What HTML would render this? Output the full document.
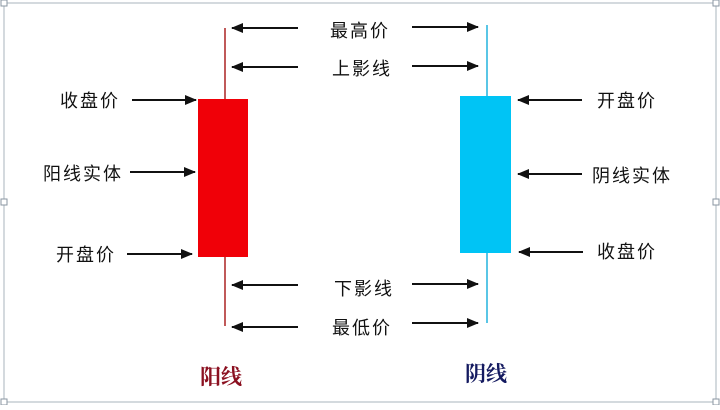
<!DOCTYPE html>
<html><head><meta charset="utf-8"><style>
body{margin:0;background:#fff;}
.t{font-family:"Liberation Sans","Noto Sans CJK SC",sans-serif;font-size:18px;fill:#111;letter-spacing:2px;}
</style></head><body>
<svg width="720" height="405" viewBox="0 0 720 405" xmlns="http://www.w3.org/2000/svg">
<defs><marker id="a" markerWidth="12" markerHeight="12" refX="11" refY="6" orient="auto" markerUnits="userSpaceOnUse"><path d="M0,1 L12,6 L0,11 Z" fill="#111"/></marker></defs>
<rect x="4" y="3" width="712" height="399" fill="#fff" stroke="#b8c0c8" stroke-width="1.2"/>
<g fill="#fff" stroke="#8a96a2" stroke-width="1"><rect x="1" y="0" width="6" height="6"/><rect x="1" y="199" width="6" height="6"/><rect x="1" y="399" width="6" height="6"/><rect x="713" y="0" width="6" height="6"/><rect x="713" y="199" width="6" height="6"/><rect x="713" y="399" width="6" height="6"/></g>
<line x1="225" y1="28" x2="225" y2="326" stroke="#b03030" stroke-width="1.6"/>
<rect x="198" y="99" width="50" height="158" fill="#f00008"/>
<line x1="487" y1="25" x2="487" y2="323" stroke="#30b8e0" stroke-width="1.6"/>
<rect x="460" y="96" width="51" height="157" fill="#00c4f5"/>
<g stroke="#111" stroke-width="2" marker-end="url(#a)">
<line x1="298" y1="28" x2="232" y2="28"/><line x1="298" y1="67" x2="232" y2="67"/>
<line x1="298" y1="285" x2="232" y2="285"/><line x1="298" y1="327" x2="232" y2="327"/>
<line x1="412" y1="27" x2="478" y2="27"/><line x1="412" y1="66" x2="478" y2="66"/>
<line x1="412" y1="284" x2="478" y2="284"/><line x1="412" y1="323" x2="478" y2="323"/>
<line x1="132" y1="100" x2="196" y2="100"/><line x1="130" y1="172" x2="195" y2="172"/><line x1="127" y1="254" x2="192" y2="254"/>
<line x1="582" y1="100" x2="518" y2="100"/><line x1="582" y1="174" x2="518" y2="174"/><line x1="583" y1="252" x2="519" y2="252"/>
</g>
<g class="t">
<text x="330" y="37">最高价</text><text x="332" y="75">上影线</text>
<text x="334" y="295">下影线</text><text x="332" y="334">最低价</text>
<text x="60" y="107">收盘价</text><text x="43" y="180">阳线实体</text><text x="56" y="261">开盘价</text>
<text x="597" y="107">开盘价</text><text x="592" y="182">阴线实体</text><text x="597" y="258">收盘价</text>
</g>
<text x="200" y="384" font-family="Liberation Serif,'Noto Serif CJK SC',serif" font-weight="bold" font-size="21" fill="#8b1020">阳线</text>
<text x="465" y="381" font-family="Liberation Serif,'Noto Serif CJK SC',serif" font-weight="bold" font-size="21" fill="#141a60">阴线</text>
</svg>
</body></html>
